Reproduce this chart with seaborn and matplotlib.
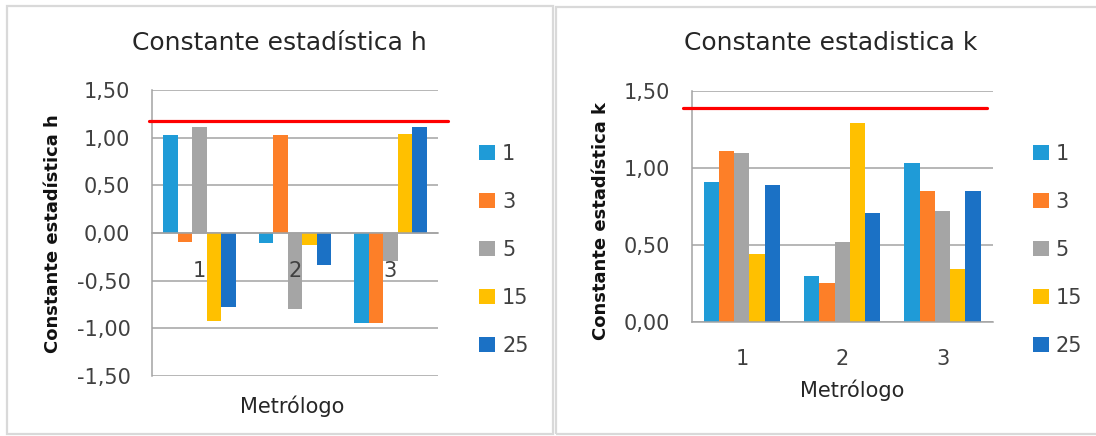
import numpy as np
import pandas as pd
import matplotlib
matplotlib.use("Agg")
import matplotlib.pyplot as plt
import seaborn as sns
from matplotlib.patches import Rectangle

# ---- data -------------------------------------------------------------
metrologists = ["1", "2", "3"]
series = ["1", "3", "5", "15", "25"]

# Mandel h statistic per series (one value per metrologist)
h_1 = [1.03, -0.11, -0.94]
h_3 = [-0.09, 1.03, -0.94]
h_5 = [1.11, -0.80, -0.29]
h_15 = [-0.92, -0.13, 1.04]
h_25 = [-0.78, -0.34, 1.11]

# Mandel k statistic per series (one value per metrologist)
k_1 = [0.91, 0.30, 1.03]
k_3 = [1.11, 0.25, 0.85]
k_5 = [1.10, 0.52, 0.72]
k_15 = [0.44, 1.29, 0.34]
k_25 = [0.89, 0.71, 0.85]

h_critical = 1.17
k_critical = 1.39

h_ticks = [-1.5, -1.0, -0.5, 0.0, 0.5, 1.0, 1.5]
h_ticklabels = ["-1,50", "-1,00", "-0,50", "0,00", "0,50", "1,00", "1,50"]
k_ticks = [0.0, 0.5, 1.0, 1.5]
k_ticklabels = ["0,00", "0,50", "1,00", "1,50"]

colors = ["#1f9bd7", "#fd7f28", "#a5a5a5", "#ffc000", "#1b71c5"]


def long_table(values, name):
    return pd.DataFrame({
        "Metrólogo": np.tile(metrologists, len(series)),
        "Serie": np.repeat(series, len(metrologists)),
        name: np.concatenate(values),
    })


h_df = long_table([h_1, h_3, h_5, h_15, h_25], "h")
k_df = long_table([k_1, k_3, k_5, k_15, k_25], "k")

# ---- figure -----------------------------------------------------------
sns.set_style("white")
plt.rcParams["font.family"] = ["DejaVu Sans"]

W, H = 1096, 436
fig = plt.figure(figsize=(W / 100, H / 100), dpi=100)

GRID = "#a3a3a3"
TXT = "#404040"
DARK = "#262626"


def box(x0, y_top, x1, y_bottom):
    return [x0 / W, 1 - y_bottom / H, (x1 - x0) / W, (y_bottom - y_top) / H]


# chart-area frames
fig.add_artist(Rectangle((7 / W, 1 - 434 / H), (553 - 7) / W, (434 - 6) / H,
                         transform=fig.transFigure, fill=False,
                         edgecolor="#d9d9d9", linewidth=1.6))
fig.add_artist(Rectangle((556 / W, 1 - 434 / H), (1110 - 556) / W, (434 - 7) / H,
                         transform=fig.transFigure, fill=False,
                         edgecolor="#d9d9d9", linewidth=1.6))

ax_h = fig.add_axes(box(152, 90, 438, 376))
ax_k = fig.add_axes(box(691.7, 91, 992.7, 321.7))


def draw_panel(ax, df, col, ticks, ticklabels, crit, crit_span,
               title, title_xy, ylabel, ylabel_xy, xlabel_xy, legend_xy):
    sns.barplot(data=df, x="Metrólogo", y=col, hue="Serie",
                order=metrologists, hue_order=series, palette=colors,
                saturation=1, width=0.76, errorbar=None, linewidth=0,
                zorder=1, ax=ax)
    ax.set_xlim(-0.5, 2.5)
    ax.set_ylim(ticks[0], ticks[-1])
    # axis (spines, ticks, labels) drawn over the bars
    ax.set_axisbelow(False)

    # horizontal gridlines behind the bars
    for t in ticks:
        ax.axhline(t, color=GRID, linewidth=1.1, zorder=0.3)

    for side in ("top", "right"):
        ax.spines[side].set_visible(False)
    for side in ("left", "bottom"):
        ax.spines[side].set_color(GRID)
        ax.spines[side].set_linewidth(1.1)
    ax.spines["bottom"].set_position(("data", 0))

    ax.set_yticks(ticks, ticklabels)
    ax.tick_params(axis="y", length=6.5, width=1.1, color=GRID,
                   labelsize=15, labelcolor=TXT, pad=9)
    ax.set_xticks(range(len(metrologists)), metrologists)
    ax.tick_params(axis="x", which="major", length=0, pad=20,
                   labelsize=15, labelcolor=TXT)
    ax.set_xticks([-0.5, 0.5, 1.5, 2.5], minor=True)
    ax.tick_params(axis="x", which="minor", length=5.8, width=1.1,
                   color=GRID, direction="out")

    # critical value
    ax.axhline(crit, xmin=crit_span[0], xmax=crit_span[1], color="#ff0000",
               linewidth=2.3, zorder=3, clip_on=False)

    ax.set_title(title, fontsize=18, color=DARK, x=title_xy[0],
                 y=title_xy[1], va="center", pad=0)
    ax.set_ylabel(ylabel, fontsize=13, fontweight="bold", color="#111111",
                  va="center")
    ax.yaxis.set_label_coords(ylabel_xy[0] / W, 1 - ylabel_xy[1] / H,
                              transform=fig.transFigure)
    ax.set_xlabel("Metrólogo", fontsize=15, color=DARK, va="center")
    ax.xaxis.set_label_coords(xlabel_xy[0] / W, 1 - xlabel_xy[1] / H,
                              transform=fig.transFigure)

    sns.move_legend(ax, "upper left",
                    bbox_to_anchor=(legend_xy[0] / W, 1 - legend_xy[1] / H),
                    bbox_transform=fig.transFigure, title=None,
                    frameon=False, fontsize=15, labelcolor=TXT,
                    handlelength=0.77, handleheight=0.72,
                    handletextpad=0.34, labelspacing=1.34,
                    borderpad=0, borderaxespad=0)


draw_panel(ax_h, h_df, "h", h_ticks, h_ticklabels, h_critical,
           (-0.0105, 1.035), "Constante estadística h", (0.444, 1.1643),
           "Constante estadística h", (52.6, 234), (292, 406), (479, 144))

draw_panel(ax_k, k_df, "k", k_ticks, k_ticklabels, k_critical,
           (-0.028, 0.980), "Constante estadistica k", (0.4628, 1.2081),
           "Constante estadística k", (600.5, 221), (852, 390), (1032.6, 144))

fig.savefig("out.png", dpi=100)
